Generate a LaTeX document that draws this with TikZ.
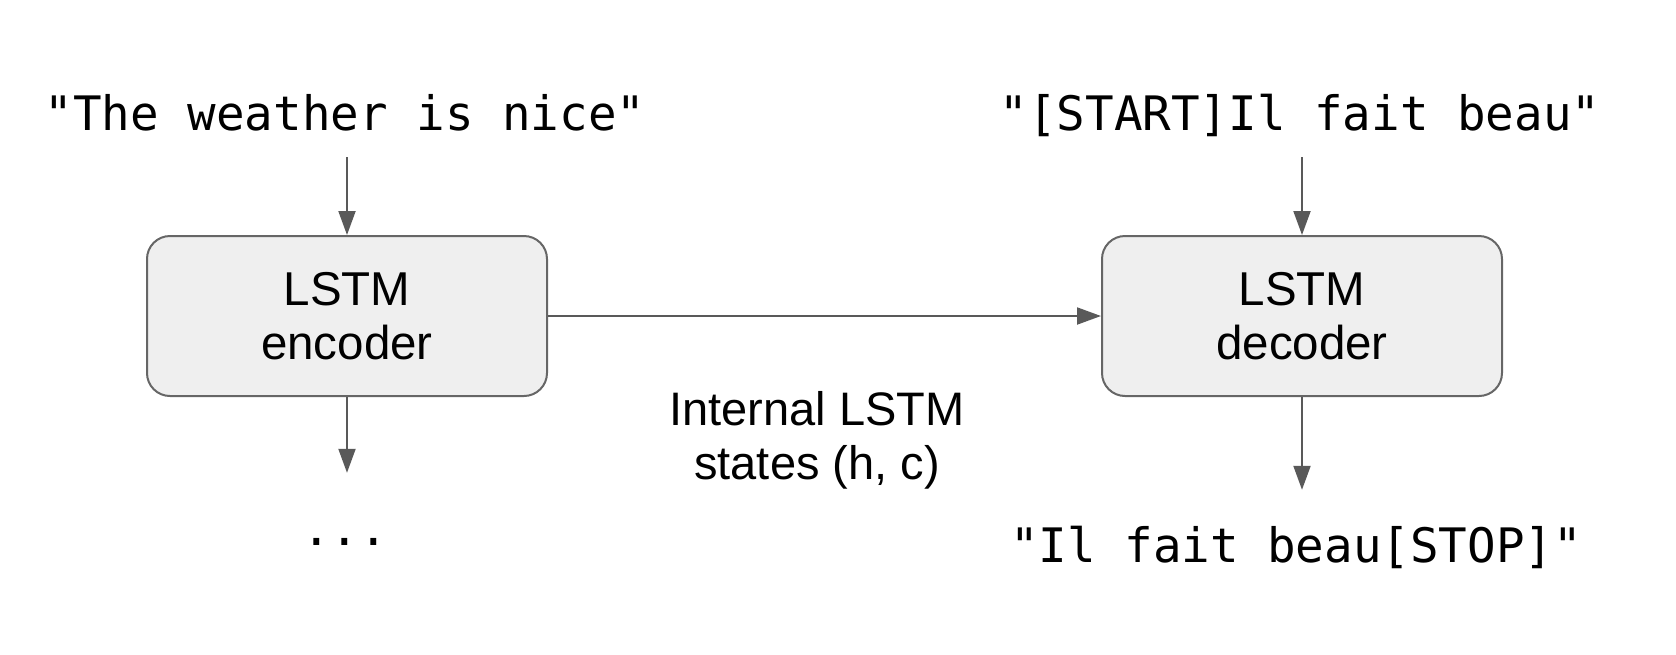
\documentclass[tikz,border=0pt]{standalone}
\usepackage{fontspec}
\setmainfont{Liberation Sans}
\newfontfamily\monofont{DejaVu Sans Mono}
\usetikzlibrary{arrows.meta}
\definecolor{linegray}{HTML}{595959}
\definecolor{boxfill}{HTML}{EFEFEF}
\definecolor{boxline}{HTML}{666666}
\begin{document}
\begin{tikzpicture}[x=1pt,y=-1pt,
    lstm/.style={draw=boxline, line width=2pt, fill=boxfill, rounded corners=23pt,
        minimum width=400pt, minimum height=160pt, align=center,
        font=\fontsize{47.5}{54}\selectfont},
    seq/.style={inner xsep=0pt, text height=35pt, text depth=0pt,
        font=\monofont\fontsize{47.5}{54}\selectfont},
    arr/.style={draw=linegray, line width=2pt, -{Triangle[length=24pt,width=17pt]}}]
    \useasboundingbox (0,0) rectangle (1676,654);
    % encoder side
    \node[seq, anchor=base, inner ysep=27pt] (src) at (345,130) {"The weather is nice"};
    \node[lstm] (enc) at (347,316) {LSTM\\encoder};
    \node[seq, anchor=base, inner ysep=37pt] (dots) at (345,545) {...};
    % decoder side
    \node[seq, anchor=base, inner ysep=27pt] (tgt) at (1300,130) {"[START]Il fait beau"};
    \node[lstm] (dec) at (1302,316) {LSTM\\decoder};
    \node[seq, anchor=base, inner ysep=37pt] (out) at (1296,562) {"Il fait beau[STOP]"};
    % states
    \node[align=center, font=\fontsize{47}{54}\selectfont] (states) at (817,440) {Internal LSTM\\states (h, c)};
    \draw[arr] (src.south -| enc.north) -- (enc.north);
    \draw[arr] (enc.south) -- (dots.north -| enc.south);
    \draw[arr] (tgt.south -| dec.north) -- (dec.north);
    \draw[arr] (dec.south) -- (out.north -| dec.south);
    \draw[arr] (enc) -- (dec);
\end{tikzpicture}
\end{document}
